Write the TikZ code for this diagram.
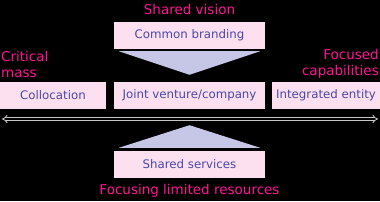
\documentclass[tikz,border=0pt]{standalone}
\usepackage{fontspec}
\setmainfont{DejaVu Sans}
\usetikzlibrary{arrows.meta, positioning, calc}
\definecolor{boxpink}{RGB}{253,224,240}
\definecolor{boxtext}{RGB}{72,72,168}
\definecolor{labelpink}{RGB}{255,20,150}
\definecolor{wedge}{RGB}{198,198,230}
\definecolor{railgray}{RGB}{200,200,200}

\begin{document}
\begin{tikzpicture}[x=1pt, y=-1pt,
  box/.style={rectangle, fill=boxpink, text=boxtext, inner sep=0pt,
              minimum height=27pt, font=\fontsize{11.8}{14}\selectfont},
  lbl/.style={text=labelpink, inner sep=0pt, font=\fontsize{13.5}{16}\selectfont},
  rail/.style={{Implies[scale=1.4]}-{Implies[scale=1.4]}, double=black,
               draw=railgray, double distance=2pt, line width=0.8pt}
]
  \fill[black] (0,0) rectangle (380,201);
  \useasboundingbox (0,0) rectangle (380,201);

  \node[box, minimum width=151pt] (brand)   at (189.5,35.5) {Common branding};
  \node[box, minimum width=106pt] (colloc)  at (53,95.5)    {Collocation};
  \node[box, minimum width=151pt] (joint)   at (189.5,95.5) {Joint venture/company};
  \node[box, minimum width=108pt] (integ)   at (326,95.5)   {Integrated entity};
  \node[box, minimum width=151pt] (shared)  at (189.5,164.5){Shared services};

  \node[lbl] (vision) at (189.5,9)   {Shared vision};
  \node[lbl] (focus)  at (189.5,191) {Focusing limited resources};
  \node[lbl, anchor=west, align=left] (critical) at (1,64)
    {Critical\\mass};
  \node[lbl, anchor=east, align=right] (focused) at (379,64)
    {Focused\\capabilities};

  % wedges between the boxes
  \fill[wedge] ($(brand.south west)+(5,2)$) -- ($(brand.south east)+(-5,2)$)
    -- ($(joint.north)+(0,-7)$) -- cycle;
  \fill[wedge] ($(shared.north west)+(5,-3)$) -- ($(shared.north east)+(-5,-3)$)
    -- ($(joint.south)+(0,16)$) -- cycle;

  \coordinate (lend) at (2,119);
  \coordinate (rend) at (378,119);
  \draw[rail] (lend) -- (rend);
\end{tikzpicture}
\end{document}
